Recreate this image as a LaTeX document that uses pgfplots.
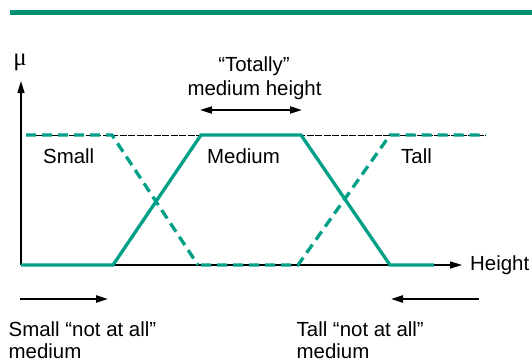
\documentclass[border=0pt]{standalone}
\usepackage{pgfplots}
\pgfplotsset{compat=1.18}
\usetikzlibrary{arrows.meta}
\usepackage{fontspec}
\setmainfont{Liberation Sans}
\newfontfamily\serifmu{Liberation Serif}
\definecolor{teal1}{RGB}{0,160,135}
\definecolor{tealbar}{RGB}{0,146,112}
\begin{document}
\fontsize{20.5}{24}\selectfont
\begin{tikzpicture}
\begin{axis}[name=ax,
  scale only axis, width=532bp, height=361bp,
  xmin=0, xmax=532, ymin=-0.738462, ymax=2.038462,
  hide axis, clip=false]
% top rule
\draw[tealbar, line width=5bp] (axis cs:10,1.9423) -- (axis cs:532,1.9423);
% axes
\draw[black, line width=1.4bp, -{Triangle[length=12bp,width=7bp]}] (axis cs:21,0) -- (axis cs:462,0);
\draw[black, line width=1.4bp, -{Triangle[length=12bp,width=7bp]}] (axis cs:21,0) -- (axis cs:21,1.415);
% reference line mu = 1
\draw[black, line width=0.9bp, dash pattern=on 7bp off 1.5bp] (axis cs:26,1) -- (axis cs:486,1);
% membership functions
\addplot[teal1, line width=3.3bp, dash pattern=on 10bp off 6bp] coordinates {(26,1) (112,1) (198,0)};
\addplot[teal1, line width=3.3bp, dash pattern=on 10bp off 6bp] coordinates {(201,0) (298,0) (390,1) (486,1)};
\addplot[teal1, line width=3.3bp] coordinates {(21,0) (113,0) (201,1) (301,1) (390,0) (434,0)};
% labels
\node[anchor=base, inner sep=0] at (axis cs:20,1.5308) {\serifmu\fontsize{25}{26}\selectfont μ};
\node[anchor=base, inner sep=0] at (axis cs:254,1.4846) {“Totally”};
\node[anchor=base, inner sep=0] at (axis cs:254.5,1.3) {medium height};
\draw[black, line width=2bp, {Triangle[length=12bp,width=7bp]}-{Triangle[length=12bp,width=7bp]}] (axis cs:200,1.1923) -- (axis cs:302,1.1923);
\node[anchor=base west, inner sep=0] at (axis cs:43,0.7846) {Small};
\node[anchor=base west, inner sep=0] at (axis cs:207,0.7846) {Medium};
\node[anchor=base west, inner sep=0] at (axis cs:401,0.7846) {Tall};
\node[anchor=base west, inner sep=0] at (axis cs:470,-0.0385) {Height};
\draw[black, line width=2.2bp, -{Triangle[length=12bp,width=7bp]}] (axis cs:20,-0.2615) -- (axis cs:108,-0.2615);
\draw[black, line width=2.2bp, -{Triangle[length=12bp,width=7bp]}] (axis cs:479,-0.2615) -- (axis cs:391,-0.2615);
\node[anchor=base west, inner sep=0] at (axis cs:8.5,-0.5462) {Small “not at all”};
\node[anchor=base west, inner sep=0] at (axis cs:8.5,-0.7154) {medium};
\node[anchor=base west, inner sep=0] at (axis cs:296.5,-0.5462) {Tall “not at all”};
\node[anchor=base west, inner sep=0] at (axis cs:296.5,-0.7154) {medium};
\end{axis}
\pgfresetboundingbox
\path (ax.south west) rectangle (ax.north east);
\end{tikzpicture}
\end{document}
